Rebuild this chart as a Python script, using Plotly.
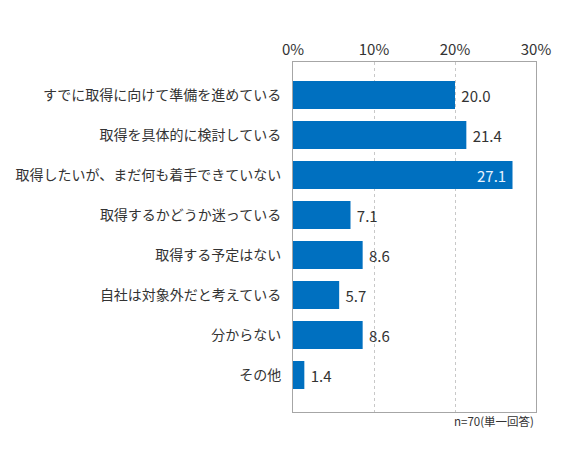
import plotly.graph_objects as go

categories = [
    "すでに取得に向けて準備を進めている",
    "取得を具体的に検討している",
    "取得したいが、まだ何も着手できていない",
    "取得するかどうか迷っている",
    "取得する予定はない",
    "自社は対象外だと考えている",
    "分からない",
    "その他",
]
values = [20.0, 21.4, 27.1, 7.1, 8.6, 5.7, 8.6, 1.4]
tick_vals = [0, 10, 20, 30]
tick_text = ["0%", "10%", "20%", "30%"]
note = "n=70(単一回答)"

FONT = "Noto Sans CJK JP, Noto Sans, sans-serif"
BLUE = "#0070c0"
INK = "#333333"
FRAME = "#a6a6a6"

# the page body has an 8px margin, so the margins below are shifted to match
inside = [v == max(values) for v in values]
labels = [f"{v:.1f} " if i else f" {v:.1f}" for v, i in zip(values, inside)]

fig = go.Figure(go.Bar(
    x=values,
    y=categories,
    orientation="h",
    width=0.7,
    marker=dict(color=BLUE, line=dict(width=0)),
    text=labels,
    textposition=["inside" if i else "outside" for i in inside],
    insidetextanchor="end",
    textfont=dict(size=15, color=["#e6f2ff" if i else INK for i in inside], family=FONT),
    cliponaxis=False,
    hoverinfo="skip",
))

fig.update_layout(
    width=567, height=472,
    margin=dict(l=285, r=39, t=54, b=68),
    paper_bgcolor="white", plot_bgcolor="white",
    font=dict(family=FONT, color=INK),
    showlegend=False,
    xaxis=dict(
        range=[0, 30], side="top",
        tickvals=tick_vals, ticktext=tick_text,
        tickfont=dict(size=15, color=INK),
        showgrid=True, gridcolor="#c8c8c8", griddash="dot", gridwidth=1,
        showline=True, linecolor=FRAME, linewidth=1, mirror=True,
        zeroline=False, ticks="", fixedrange=True, automargin=False,
    ),
    yaxis=dict(
        range=[7.925, -0.825],
        tickfont=dict(size=14, color=INK),
        showline=True, linecolor=FRAME, linewidth=1, mirror=True,
        ticks="outside", ticklen=8, tickcolor="rgba(0,0,0,0)",
        showgrid=False, fixedrange=True, automargin=False,
    ),
    annotations=[dict(
        text=note, xref="paper", yref="paper", x=1.0, y=0, yshift=1,
        xanchor="right", yanchor="top", showarrow=False,
        font=dict(size=11.5, color=INK),
    )],
)

fig.write_html("out.html")
